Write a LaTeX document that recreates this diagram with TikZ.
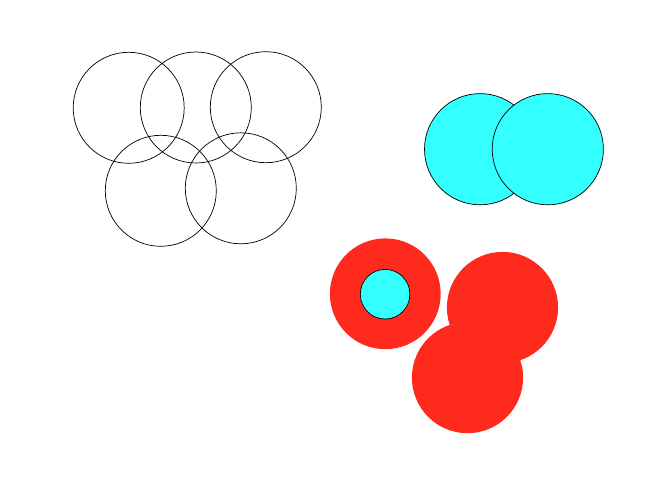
\documentclass[tikz,border=0pt]{standalone}
\usepackage{tikz}
\definecolor{discCyan}{RGB}{51,255,255}
\definecolor{discRed}{RGB}{255,42,30}

\begin{document}
\begin{tikzpicture}[
    x=1pt, y=-1pt,
    ring/.style={draw=black, line width=0.7pt},
    cyandisc/.style={draw=black, line width=0.7pt, fill=discCyan},
    reddisc/.style={fill=discRed}
]
    \useasboundingbox (0,0) rectangle (662,482);

    % Rings
    \foreach \cx/\cy in {128.7/107.8, 195.8/107.5, 265.8/107.2, 160.8/190.8, 240.8/188.3}
        \draw[ring] (\cx,\cy) circle[radius=55.5];

    % Cyan discs
    \draw[cyandisc] (480.1,149.2) circle[radius=55.6];
    \draw[cyandisc] (547.8,149.2) circle[radius=55.6];

    % Red discs
    \fill[reddisc] (385.3,293.8) circle[radius=55.4];
    \fill[reddisc] (502.5,307.5) circle[radius=55.6];
    \fill[reddisc] (467.5,377.6) circle[radius=55.6];
    \draw[cyandisc] (385.1,294.2) circle[radius=24.8];
\end{tikzpicture}
\end{document}
